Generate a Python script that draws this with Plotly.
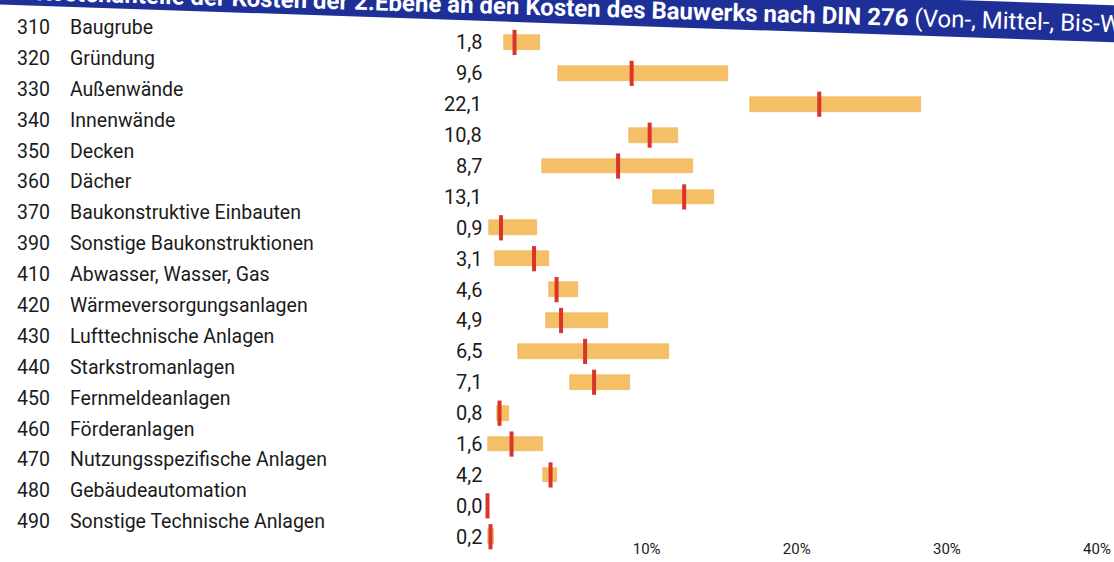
import plotly.graph_objects as go

# ---------------- data ----------------
codes = ["310", "320", "330", "340", "350", "360", "370", "390", "410",
         "420", "430", "440", "450", "460", "470", "480", "490"]
names = ["Baugrube", "Gründung", "Außenwände", "Innenwände", "Decken", "Dächer",
         "Baukonstruktive Einbauten", "Sonstige Baukonstruktionen",
         "Abwasser, Wasser, Gas", "Wärmeversorgungsanlagen", "Lufttechnische Anlagen",
         "Starkstromanlagen", "Fernmeldeanlagen", "Förderanlagen",
         "Nutzungsspezifische Anlagen", "Gebäudeautomation", "Sonstige Technische Anlagen"]
von = [1.1, 4.7, 17.5, 9.4, 3.6, 11.0, 0.1, 0.5, 4.1, 3.9, 2.0, 5.5, 0.6, 0.0, 3.7, 0.0, 0.0]
mittel = [1.8, 9.6, 22.1, 10.8, 8.7, 13.1, 0.9, 3.1, 4.6, 4.9, 6.5, 7.1, 0.8, 1.6, 4.2, 0.0, 0.2]
bis = [3.5, 16.0, 28.9, 12.7, 13.7, 15.1, 3.3, 4.1, 6.0, 8.0, 12.1, 9.5, 1.4, 3.7, 4.6, 0.0, 0.4]
tick_vals = [10, 20, 30, 40]
tick_text = ["10%", "20%", "30%", "40%"]
title_bold = "Kostenanteile der Kosten der 2.Ebene an den Kosten des Bauwerks nach DIN 276"
title_rest = " (Von-, Mittel-, Bis-Werte)"

# ---------------- layout geometry ----------------
W, H = 1114, 562
ML, MR = 480, 20
Y_RANGE = [16.3, -0.5]
ROW0, ROWSTEP = 42.0, 30.9
MT = ROW0 + Y_RANGE[1] * ROWSTEP          # top of plot area (px)
PLOT_H = (Y_RANGE[0] - Y_RANGE[1]) * ROWSTEP
MB = H - MT - PLOT_H
PLOT_W = W - ML - MR


def px_x(p):
    return (p - ML) / PLOT_W


def px_y(p):
    return (MT + PLOT_H - p) / PLOT_H


FONT = "Roboto, Lato, sans-serif"
TXT = "#1b1b1b"
rows = list(range(len(codes)))

fig = go.Figure()
fig.add_trace(go.Bar(
    y=rows, x=[b - v for v, b in zip(von, bis)], base=von, orientation="h",
    width=0.48, marker=dict(color="#F5C065", line=dict(color="#EDAE5A", width=0.6)),
    hoverinfo="skip", showlegend=False))
fig.add_trace(go.Scatter(
    y=rows, x=mittel, mode="markers",
    marker=dict(symbol="line-ns", size=18, line=dict(color="#D8352B", width=4)),
    cliponaxis=False, hoverinfo="skip", showlegend=False))

ann = []
for i in rows:
    ann.append(dict(x=px_x(15), xref="paper", y=i, yref="y", text=codes[i],
                    xanchor="left", yanchor="middle", yshift=15, showarrow=False,
                    font=dict(size=19.5, color=TXT, family=FONT)))
    ann.append(dict(x=px_x(68), xref="paper", y=i, yref="y", text=names[i],
                    xanchor="left", yanchor="middle", yshift=15, showarrow=False,
                    font=dict(size=19.5, color=TXT, family=FONT)))
    ann.append(dict(x=0, xref="x", y=i, yref="y",
                    text=f"{mittel[i]:.1f}".replace(".", ","),
                    xanchor="right", yanchor="middle", xshift=-4, showarrow=False,
                    font=dict(size=20, color=TXT, family=FONT)))

# tilted title band (the scanned page is slightly rotated)
def band_y(x):
    return 4 + 0.034 * x

pts = [(-10, band_y(-10)), (W + 10, band_y(W + 10)),
       (W + 10, band_y(W + 10) - 37), (-10, band_y(-10) - 37)]
path = "M " + " L ".join(f"{px_x(a):.5f},{px_y(b):.5f}" for a, b in pts) + " Z"
shapes = [dict(type="path", path=path, xref="paper", yref="paper",
               fillcolor="#1E2F98", line=dict(width=0), layer="above")]

ann.append(dict(x=px_x(603), xref="paper", y=px_y(9), yref="paper",
                text=f"<b>{title_bold}</b>{title_rest}", textangle=1.7,
                xanchor="center", yanchor="middle", showarrow=False,
                font=dict(size=24, color="white", family=FONT)))

fig.update_layout(
    width=W, height=H, margin=dict(l=ML, r=MR, t=MT, b=MB, pad=0, autoexpand=False),
    paper_bgcolor="white", plot_bgcolor="white",
    xaxis=dict(range=[-0.5, 40.4], tickvals=tick_vals, ticktext=tick_text,
               showgrid=False, zeroline=False, showline=False, ticks="",
               automargin=False, ticklabelshift=9, ticklabelstandoff=-8,
               tickfont=dict(size=15, color=TXT, family=FONT)),
    yaxis=dict(range=Y_RANGE, showticklabels=False, showgrid=False,
               zeroline=False, showline=False, automargin=False),
    annotations=ann, shapes=shapes, bargap=0,
)
fig.write_html("out.html", config={"displayModeBar": False},
               post_script="document.body.style.margin='0';document.body.style.overflow='hidden';")
